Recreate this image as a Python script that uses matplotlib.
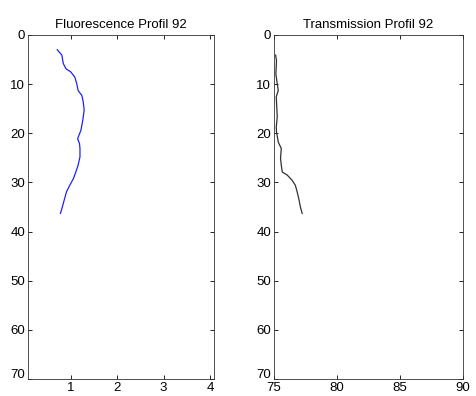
import matplotlib
matplotlib.use("Agg")
from matplotlib import pyplot as plt
from matplotlib.transforms import ScaledTranslation

plt.rcParams['font.family'] = 'Liberation Sans'
plt.rcParams['font.size'] = 9.5

# depth (m) and fluorescence
fluo_depth = [3.0, 4.1, 5.8, 6.9, 7.5, 8.6, 9.9, 11.3, 12.3, 13.6, 15.3, 17.4, 19.4,
              21.1, 22.1, 23.1, 24.8, 26.5, 27.9, 29.2, 30.6, 31.9, 33.6, 35.0, 36.3]
fluo = [0.71, 0.81, 0.84, 0.90, 1.00, 1.09, 1.13, 1.16, 1.24, 1.27, 1.29, 1.26, 1.22,
        1.15, 1.19, 1.20, 1.20, 1.16, 1.11, 1.06, 0.98, 0.91, 0.86, 0.82, 0.78]

# depth (m) and transmission
trans_depth = [4.1, 5.2, 8.0, 11.3, 12.6, 16.7, 18.7, 19.7, 21.8, 23.1, 25.1, 26.5,
               27.9, 28.5, 29.6, 30.6, 31.9, 33.3, 35.0, 36.3]
trans = [75.13, 75.2, 75.15, 75.34, 75.18, 75.26, 75.18, 75.2, 75.34, 75.58, 75.52,
         75.58, 75.66, 76.05, 76.45, 76.7, 76.84, 76.97, 77.1, 77.24]

fig = plt.figure(figsize=(4.76, 3.96), dpi=100)
ax1 = fig.add_axes([0.0588, 0.043, 0.391, 0.8687])
ax2 = fig.add_axes([0.5756, 0.043, 0.3964, 0.8687])

ax1.plot(fluo, fluo_depth, color='#2020ff', linewidth=0.9)
ax1.set_xlim(0.08, 4.09)
ax1.set_xticks([1, 2, 3, 4])
ax1.set_title("Fluorescence Profil 92", fontsize=9.5, pad=5)

ax2.plot(trans, trans_depth, color='#303030', linewidth=0.9)
ax2.set_xlim(75, 90)
ax2.set_xticks([75, 80, 85, 90])
ax2.set_title("Transmission Profil 92", fontsize=9.5, pad=5)

for ax in (ax1, ax2):
    ax.set_ylim(70, 0)
    ax.set_yticks(range(0, 80, 10))
    ax.tick_params(direction='in', length=3, top=True, right=True, pad=2,
                   width=0.6, labelsize=9.5)
    for s in ax.spines.values():
        s.set_linewidth(0.6)
        s.set_color('#333333')
    # lift the bottom depth label a little so it clears the x labels
    lab = ax.get_yticklabels()[-1]
    lab.set_transform(lab.get_transform() + ScaledTranslation(0, 3 / 72, fig.dpi_scale_trans))
    lab.set_va('center')

plt.savefig('out.png', dpi=100)
